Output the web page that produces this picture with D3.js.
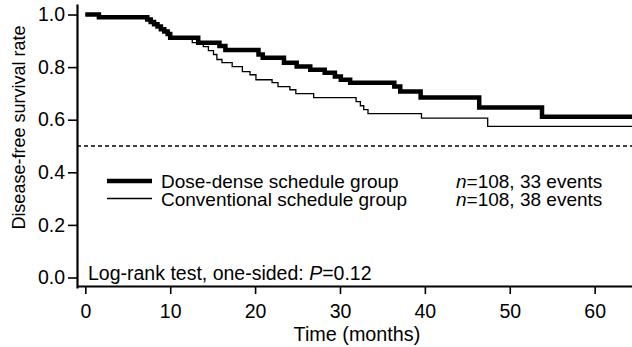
<!DOCTYPE html>
<html>
<head>
<meta charset="utf-8">
<script src="https://cdn.jsdelivr.net/npm/d3@7"></script>
<style>
  body { margin: 0; background: #fff; }
  svg { display: block; font-family: "Liberation Sans", Arial, sans-serif; }
</style>
</head>
<body>
<div id="chart"></div>
<script>
// Kaplan-Meier steps (time in months, survival rate after the step)
const doseDenseTime = [0, 1.6, 7.3, 7.7, 8.1, 8.5, 8.9, 9.3, 9.7, 10.0, 13.3, 15.8, 16.5, 20.4, 20.9, 23.4, 24.9, 26.5, 28.2, 29.4, 30.1, 31.2, 36.4, 37.1, 39.5, 46.4, 53.8, 64.4]
const doseDenseSurv = [1.0, 0.990, 0.981, 0.972, 0.963, 0.954, 0.944, 0.935, 0.926, 0.912, 0.893, 0.880, 0.865, 0.848, 0.836, 0.817, 0.802, 0.790, 0.779, 0.764, 0.752, 0.741, 0.726, 0.707, 0.684, 0.646, 0.611, 0.611]

const convTime = [0, 1.6, 7.3, 7.7, 8.1, 8.5, 8.9, 9.3, 9.7, 10.0, 12.6, 13.9, 14.5, 15.1, 15.5, 16.1, 17.3, 18.5, 19.4, 20.1, 22.0, 22.7, 24.1, 24.8, 26.9, 31.9, 32.4, 32.8, 33.3, 39.6, 47.4, 64.4]
const convSurv = [1.0, 0.990, 0.981, 0.972, 0.963, 0.954, 0.944, 0.935, 0.926, 0.912, 0.893, 0.878, 0.863, 0.848, 0.829, 0.817, 0.802, 0.783, 0.771, 0.752, 0.741, 0.726, 0.714, 0.699, 0.684, 0.669, 0.653, 0.638, 0.623, 0.606, 0.575, 0.575]

const xTicks = [0, 10, 20, 30, 40, 50, 60]
const yTicks = [0.0, 0.2, 0.4, 0.6, 0.8, 1.0]
const medianLine = 0.5

const groups = [
    {name: 'Dose-dense schedule group', stats: '=108, 33 events', width: 4.5},
    {name: 'Conventional schedule group', stats: '=108, 38 events', width: 1.3}
]

const width = 632
const height = 347

const svg = d3.select('#chart')
    .append('svg')
    .attr('width', width)
    .attr('height', height)

// plot frame: y axis sits at x=77, x axis at y=286
const xScale = d3.scaleLinear()
    .domain([-0.98, 64.4])
    .range([77, 632])

const yScale = d3.scaleLinear()
    .domain([-0.04, 1.04])
    .range([288, 4])

// x axis
const xAxis = svg.append('g')
    .attr('transform', 'translate(0, 286)')
    .call(d3.axisBottom(xScale).tickValues(xTicks).tickSize(8).tickPadding(10).tickSizeOuter(0))

xAxis.select('.domain').attr('stroke-width', 2.2)
xAxis.selectAll('.tick line').attr('stroke-width', 1.6)
xAxis.selectAll('.tick text')
    .attr('font-size', '19.5px')
    .attr('fill', '#000')
    .attr('font-family', '"Liberation Sans", Arial, sans-serif')

// y axis
const yAxis = svg.append('g')
    .attr('transform', 'translate(77, 0)')
    .call(d3.axisLeft(yScale).tickValues(yTicks).tickSize(9).tickPadding(3).tickSizeOuter(0)
        .tickFormat(d3.format('.1f')))

yAxis.select('.domain').attr('stroke-width', 2.2)
yAxis.selectAll('.tick line').attr('stroke-width', 1.6)
yAxis.selectAll('.tick text')
    .attr('font-size', '19.5px')
    .attr('fill', '#000')
    .attr('font-family', '"Liberation Sans", Arial, sans-serif')

// axis titles
svg.append('text')
    .attr('x', xScale(32))
    .attr('y', 341)
    .attr('text-anchor', 'middle')
    .attr('font-size', '19.8px')
    .text('Time (months)')

svg.append('text')
    .attr('transform', `translate(25, ${yScale(0.57)}) rotate(-90)`)
    .attr('text-anchor', 'middle')
    .attr('font-size', '18px')
    .text('Disease-free survival rate')

// dashed median line
svg.append('line')
    .attr('x1', xScale.range()[0])
    .attr('x2', xScale.range()[1])
    .attr('y1', yScale(medianLine))
    .attr('y2', yScale(medianLine))
    .attr('stroke', '#000')
    .attr('stroke-width', 1.3)
    .attr('stroke-dasharray', '4, 3')

// survival curves
const stepLine = d3.line()
    .x(d => xScale(d[0]))
    .y(d => yScale(d[1]))
    .curve(d3.curveStepAfter)

const curves = [
    d3.zip(convTime, convSurv),
    d3.zip(doseDenseTime, doseDenseSurv)
]

svg.append('path')
    .attr('d', stepLine(curves[0]))
    .attr('fill', 'none')
    .attr('stroke', '#000')
    .attr('stroke-width', groups[1].width)

svg.append('path')
    .attr('d', stepLine(curves[1]))
    .attr('fill', 'none')
    .attr('stroke', '#000')
    .attr('stroke-width', groups[0].width)
    .attr('stroke-linejoin', 'miter')

// legend
const legend = svg.append('g')
groups.forEach((g, i) => {
    const y = 181 + i * 17.5
    legend.append('line')
        .attr('x1', 107).attr('x2', 152)
        .attr('y1', y).attr('y2', y)
        .attr('stroke', '#000')
        .attr('stroke-width', g.width)
    legend.append('text')
        .attr('x', 161)
        .attr('y', y + 7)
        .attr('font-size', '19px')
        .text(g.name)
    const stats = legend.append('text')
        .attr('x', 456)
        .attr('y', y + 7)
        .attr('font-size', '19px')
    stats.append('tspan').attr('font-style', 'italic').text('n')
    stats.append('tspan').text(g.stats)
})

// log-rank note
const note = svg.append('text')
    .attr('x', 88)
    .attr('y', 280)
    .attr('font-size', '19.5px')
note.append('tspan').text('Log-rank test, one-sided: ')
note.append('tspan').attr('font-style', 'italic').text('P')
note.append('tspan').text('=0.12')
</script>
</body>
</html>
